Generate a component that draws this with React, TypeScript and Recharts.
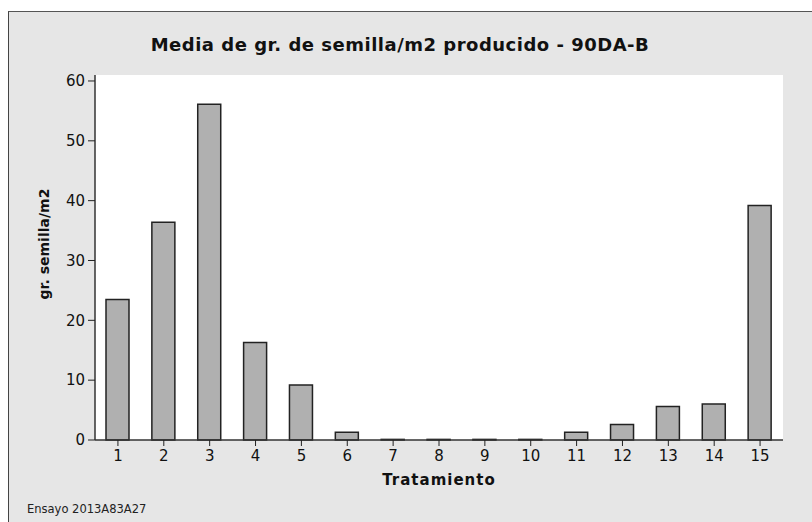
import { Bar, BarChart, CartesianGrid, XAxis, YAxis } from "recharts";

const tratamientos = ["1", "2", "3", "4", "5", "6", "7", "8", "9", "10", "11", "12", "13", "14", "15"];
const medias = [23.5, 36.4, 56.1, 16.3, 9.2, 1.3, 0.1, 0.1, 0.1, 0.1, 1.3, 2.6, 5.6, 6.0, 39.2];
const yTicks = [0, 10, 20, 30, 40, 50, 60];

const data = tratamientos.map((t, i) => ({ tratamiento: t, media: medias[i] }));

const FONT = "'DejaVu Sans', Verdana, sans-serif";
const tickStyle = { fill: "#111", fontSize: 15, fontFamily: FONT };

export default function App() {
  return (
    <div style={{ position: "fixed", left: 0, top: 0, width: 812, height: 522, background: "#fff", overflow: "hidden" }}>
      <div
        style={{
          position: "absolute",
          left: 8,
          top: 11,
          width: 820,
          height: 520,
          background: "#e6e6e6",
          borderLeft: "1.5px solid #444",
          borderTop: "1.5px solid #555",
        }}
      />
      <div style={{ position: "absolute", left: 0, top: 0 }}>
        <BarChart
          width={812}
          height={522}
          data={data}
          margin={{ top: 75, right: 29, bottom: 52, left: 35 }}
          barSize={23}
        >
          <CartesianGrid horizontal={false} vertical={false} fill="#fff" fillOpacity={1} />
          <XAxis
            dataKey="tratamiento"
            height={30}
            tick={tickStyle}
            tickSize={6}
            tickMargin={4}
            tickLine={{ stroke: "#222" }}
            axisLine={{ stroke: "#333", strokeWidth: 1.5 }}
            interval={0}
          />
          <XAxis
            xAxisId="top"
            dataKey="tratamiento"
            orientation="top"
            height={0}
            tick={false}
            tickLine={false}
            axisLine={{ stroke: "#111", strokeWidth: 1.5 }}
          />
          <YAxis
            width={60}
            domain={[0, 61]}
            ticks={yTicks}
            tick={tickStyle}
            tickSize={7}
            tickMargin={3}
            tickLine={{ stroke: "#222" }}
            axisLine={{ stroke: "#333", strokeWidth: 1.5 }}
            interval={0}
          />
          <YAxis
            yAxisId="right"
            orientation="right"
            width={0}
            domain={[0, 61]}
            tick={false}
            tickLine={false}
            axisLine={{ stroke: "#111", strokeWidth: 1.5 }}
          />
          <Bar dataKey="media" fill="#b0b0b0" stroke="#222" strokeWidth={1.5} isAnimationActive={false} />
        </BarChart>
      </div>
      <div
        style={{
          position: "absolute",
          left: 0,
          width: 800,
          top: 34,
          textAlign: "center",
          fontFamily: FONT,
          fontWeight: "bold",
          fontSize: 18,
          letterSpacing: 0.5,
          color: "#111",
          lineHeight: "22px",
          whiteSpace: "nowrap",
        }}
      >
        Media de gr. de semilla/m2 producido - 90DA-B
      </div>
      <div
        style={{
          position: "absolute",
          left: 95,
          width: 688,
          top: 471,
          textAlign: "center",
          fontFamily: FONT,
          fontWeight: "bold",
          fontSize: 15,
          letterSpacing: 1,
          color: "#111",
          lineHeight: "18px",
        }}
      >
        Tratamiento
      </div>
      <div
        style={{
          position: "absolute",
          left: 44 - 80,
          top: 244 - 9,
          width: 160,
          textAlign: "center",
          transform: "rotate(-90deg)",
          fontFamily: FONT,
          fontWeight: "bold",
          fontSize: 14,
          color: "#111",
          lineHeight: "18px",
          whiteSpace: "nowrap",
        }}
      >
        gr. semilla/m2
      </div>
      <div
        style={{
          position: "absolute",
          left: 27,
          top: 502,
          fontFamily: FONT,
          fontSize: 11.5,
          color: "#222",
          lineHeight: "14px",
          whiteSpace: "nowrap",
        }}
      >
        Ensayo 2013A83A27
      </div>
    </div>
  );
}
